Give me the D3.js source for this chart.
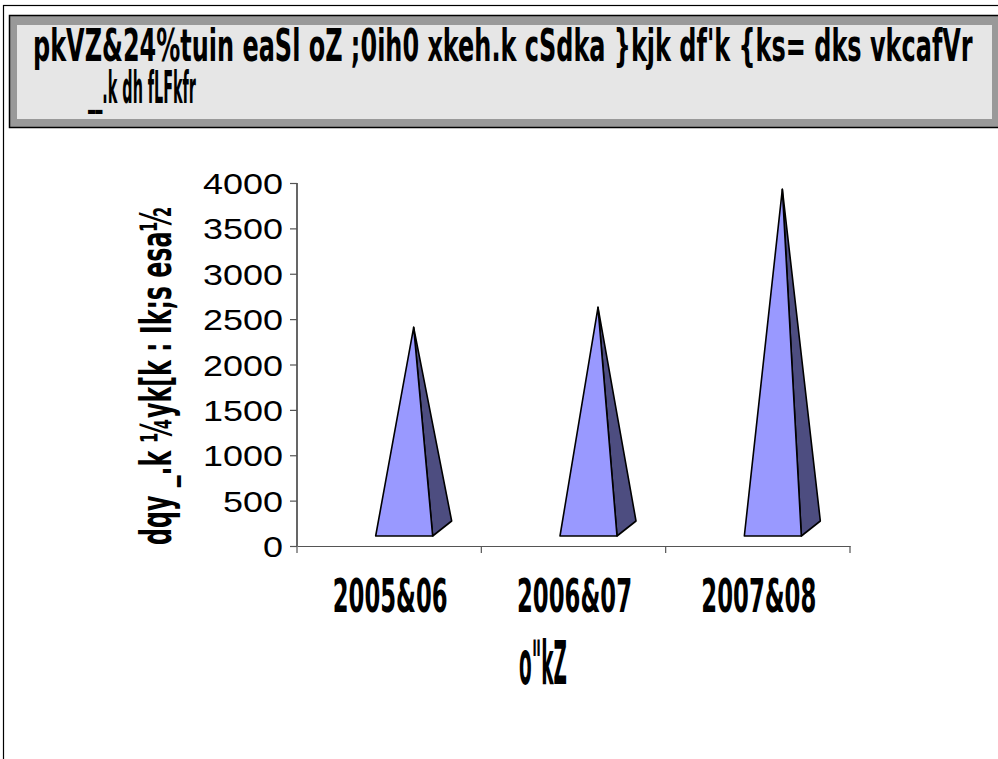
<!DOCTYPE html>
<html><head><meta charset="utf-8">
<script src="https://cdn.jsdelivr.net/npm/d3@7"></script>
<style>body{margin:0;background:#fff}svg{display:block}</style>
</head><body>
<script>
const categories = ["2005&06", "2006&07", "2007&08"];
const values = [2410, 2630, 3930];
const yTicks = [0, 500, 1000, 1500, 2000, 2500, 3000, 3500, 4000];
const titleLine1 = "pkVZ&24%tuin eaSl oZ ;0ih0 xkeh.k cSdka }kjk df'k {ks= dks vkcafVr";
const titleLine2 = "__.k dh fLFkfr";
const yTitle = "dqy _.k ¼yk[k : Ik;s esa½";
const xTitle = "o\"kZ";

const W = 998, H = 759;
const svg = d3.select("body").append("svg").attr("width", W).attr("height", H);
const cond = "'DejaVu Sans Condensed','DejaVu Sans',sans-serif";

// place text squeezed horizontally to a target width
function fitText(parent, str, px, py, size, width, anchor, rotate) {
  const t = parent.append("text").attr("font-family", cond).attr("font-weight", "bold")
    .attr("font-size", size).attr("text-anchor", anchor || "start").text(str);
  const L = t.node().getComputedTextLength();
  const s = width / L;
  t.attr("transform", `translate(${px},${py})` + (rotate ? ` rotate(${rotate})` : "") + ` scale(${s},1)`);
  return t;
}

// outer frame
svg.append("rect").attr("x", 3.5).attr("y", 5.5).attr("width", 1100).attr("height", 900)
  .attr("fill", "#fff").attr("stroke", "#000").attr("stroke-width", 1.2);

// title box
svg.append("rect").attr("x", 9.5).attr("y", 15.5).attr("width", 1100).attr("height", 112)
  .attr("fill", "#999999").attr("stroke", "#000").attr("stroke-width", 1.5);
svg.append("rect").attr("x", 17).attr("y", 25).attr("width", 975).attr("height", 94)
  .attr("fill", "#e6e6e6");
fitText(svg, titleLine1, 33, 61, 45, 940, "start");
fitText(svg, titleLine2, 88, 103, 45, 108, "start");

// scales
const x0 = 297, x1 = 850, yBase = 546;
const x = d3.scaleBand().domain(categories).range([x0, x1]).padding(0);
const y = d3.scaleLinear().domain([0, 4000]).range([yBase, 183]);

// axes
const yAxis = svg.append("g").attr("transform", `translate(${x0},0)`)
  .call(d3.axisLeft(y).tickValues(yTicks).tickSize(7).tickFormat(d3.format("d")));
yAxis.select(".domain").attr("stroke", "#000").attr("stroke-width", 1.2).attr("d", `M0,${yBase}V${y(4000)}`);
yAxis.selectAll(".tick line").attr("stroke", "#555").attr("stroke-width", 1.2);
yAxis.selectAll(".tick text").attr("font-family", "'Liberation Sans',Arial,sans-serif")
  .attr("font-size", 30).attr("fill", "#000").attr("x", -14).attr("dy", "0.35em")
  .each(function(d){ const n = String(d).length; d3.select(this).attr("textLength", n*20).attr("lengthAdjust","spacingAndGlyphs"); });

const xAxis = svg.append("g").attr("transform", `translate(0,${yBase})`)
  .call(d3.axisBottom(x).tickValues([]).tickSizeOuter(0));
xAxis.select(".domain").attr("stroke", "#555").attr("stroke-width", 1.2);
// category boundary ticks
svg.append("g").selectAll("line").data(categories.concat(["end"])).join("line")
  .attr("x1", (d,i) => x0 + i*x.bandwidth()).attr("x2", (d,i) => x0 + i*x.bandwidth())
  .attr("y1", yBase).attr("y2", yBase + 7).attr("stroke", "#555").attr("stroke-width", 1.2);

// category labels
const cg = svg.append("g");
categories.forEach(c => fitText(cg, c, x(c) + x.bandwidth()/2 + 1, 612, 47, 115, "middle"));

// axis titles
fitText(svg, xTitle, 543, 684, 60, 48, "middle");
fitText(svg, yTitle, 171, 376, 42, 338, "middle", -90);

// pyramids (3D oblique)
const half = 28.5, ddx = 19, ddy = -15, lift = 10, shift = 15;
const g = svg.append("g");
categories.forEach((c, i) => {
  const fc = x(c) + x.bandwidth()/2 + shift;
  const fy = yBase - lift;
  const fl = [fc - half, fy], fr = [fc + half, fy], br = [fc + half + ddx, fy + ddy];
  const apex = [fc + ddx/2, y(values[i])];
  g.append("path").attr("d", d3.line()([fr, br, apex]) + "Z")
    .attr("fill", "#4d4d80").attr("stroke", "#000").attr("stroke-width", 1.6).attr("stroke-linejoin", "round");
  g.append("path").attr("d", d3.line()([fl, fr, apex]) + "Z")
    .attr("fill", "#9999ff").attr("stroke", "#000").attr("stroke-width", 1.6).attr("stroke-linejoin", "round");
});
</script>
</body></html>
